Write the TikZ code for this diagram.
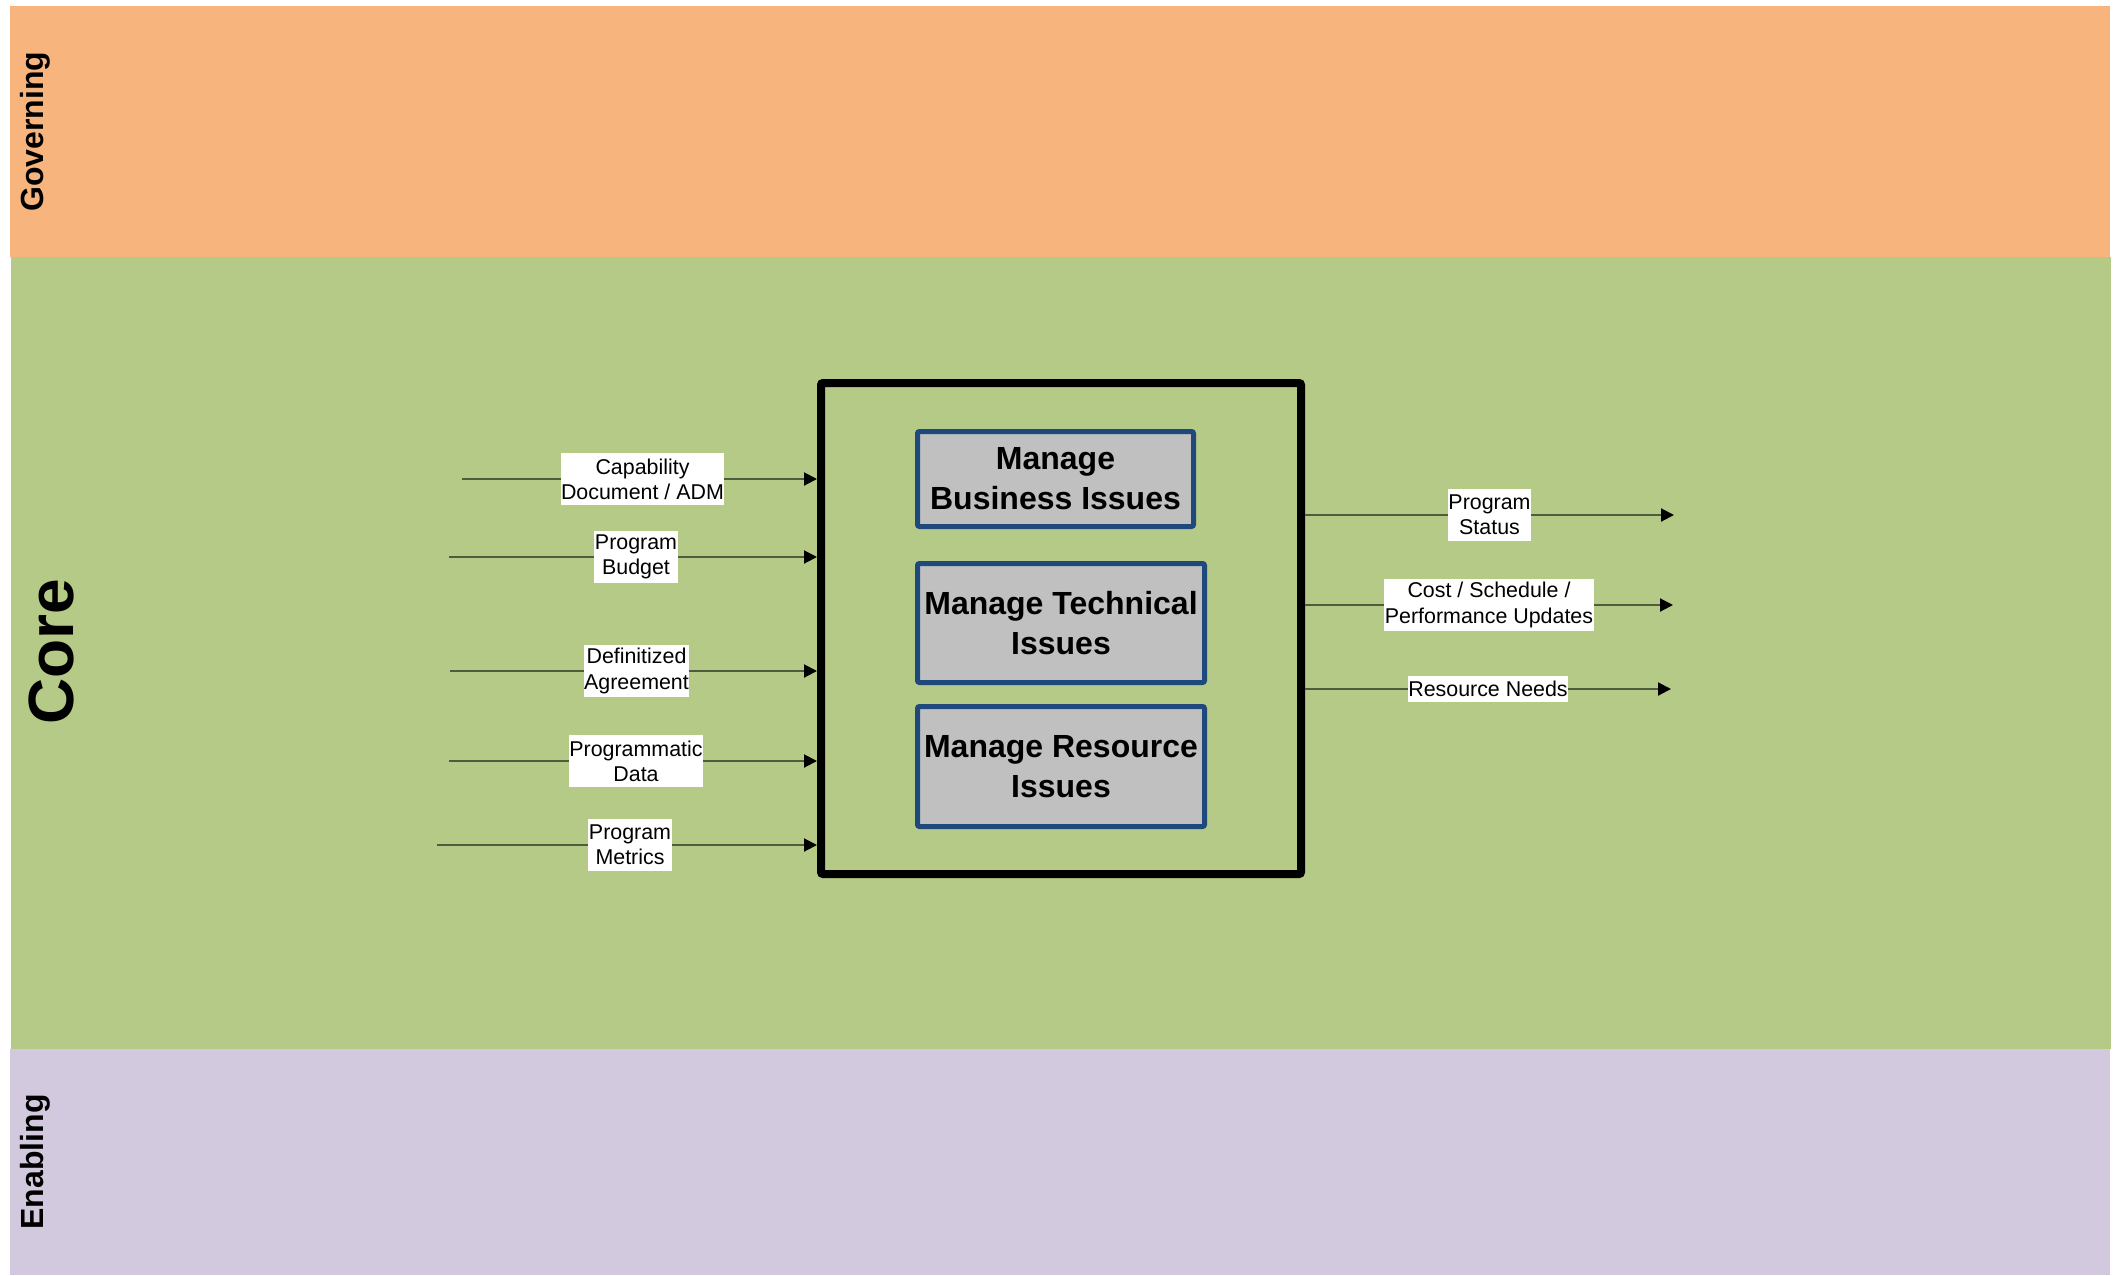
\documentclass[tikz,border=0pt]{standalone}
\usepackage{fontspec}
\setmainfont{Liberation Sans}
\usetikzlibrary{arrows.meta,positioning}
\definecolor{governfill}{HTML}{F7B57D}
\definecolor{corefill}{HTML}{B6CA87}
\definecolor{enablefill}{HTML}{D2C9DF}
\definecolor{issueblue}{HTML}{1F497D}
\definecolor{issuegray}{HTML}{C0C0C0}
\definecolor{flowline}{HTML}{4F5C3E}

\begin{document}
\begin{tikzpicture}[
  x=1pt,y=-1pt,
  band/.style={anchor=north west,minimum width=2100pt,inner sep=0pt,outer sep=0pt},
  lane/.style={rotate=90,inner sep=0pt,font=\bfseries\fontsize{32}{38}\selectfont},
  mainbox/.style={draw=black,line width=8pt,rounded corners=2pt,minimum width=480pt,minimum height=491pt},
  issue/.style={draw=issueblue,fill=issuegray,line width=5pt,rounded corners=2pt,align=center,inner sep=0pt,font=\bfseries\fontsize{32}{40}\selectfont},
  lbl/.style={fill=white,align=center,inner xsep=0.5pt,inner ysep=0pt,minimum height=52pt,font=\fontsize{21.4}{25.3}\selectfont},
  flow/.style={-{Triangle[length=13pt,width=13pt,color=black]},line width=2pt,draw=flowline}
]
\useasboundingbox (0,0) rectangle (2114,1275);

% swim lanes
\node[band,fill=governfill,minimum height=251pt] (govern) at (10,6) {};
\node[band,fill=corefill,minimum height=792pt] (core) at (11,257) {};
\node[band,fill=enablefill,minimum height=226pt] (enable) at (10,1049) {};
\node[lane] (govlbl) at (35.5,131.5) {Governing};
\node[lane,font=\bfseries\fontsize{64}{70}\selectfont] (corelbl) at (51,652) {Core};
\node[lane] (enablbl) at (35.5,1162) {Enabling};

% activity and its sub-activities
\node[mainbox] (main) at (1061,628.5) {};
\node[issue,minimum width=276pt,minimum height=95pt] (biz) at (1055.5,479) {Manage\\Business Issues};
\node[issue,minimum width=287pt,minimum height=119pt,below=32pt of biz.south west,anchor=north west] (tech) {Manage Technical\\Issues};
\node[issue,minimum width=287pt,minimum height=120pt,below=19pt of tech.south west,anchor=north west] (res) {Manage Resource\\Issues};

% inputs
\coordinate (cap) at (462,479);
\coordinate (bud) at (449,557);
\coordinate (def) at (450,671);
\coordinate (pdat) at (449,761);
\coordinate (met) at (437,845);
\draw[flow] (cap) -- node[lbl,xshift=3pt] (caplbl) {Capability\\Document / ADM} (cap -| main.west);
\draw[flow] (bud) -- node[lbl,xshift=3pt] (budlbl) {Program\\Budget} (bud -| main.west);
\draw[flow] (def) -- node[lbl,xshift=3pt] (deflbl) {Definitized\\Agreement} (def -| main.west);
\draw[flow] (pdat) -- node[lbl,xshift=3pt] (pdatlbl) {Programmatic\\Data} (pdat -| main.west);
\draw[flow] (met) -- node[lbl,xshift=3pt] (metlbl) {Program\\Metrics} (met -| main.west);

% outputs
\coordinate (stat) at (1674,515);
\coordinate (csp) at (1673,605);
\coordinate (rneed) at (1671,689);
\draw[flow] (main.east |- stat) -- node[lbl] (statlbl) {Program\\Status} (stat);
\draw[flow] (main.east |- csp) -- node[lbl] (csplbl) {Cost / Schedule /\\Performance Updates} (csp);
\draw[flow] (main.east |- rneed) -- node[lbl,minimum height=26pt] (rneedlbl) {Resource Needs} (rneed);
\end{tikzpicture}
\end{document}
